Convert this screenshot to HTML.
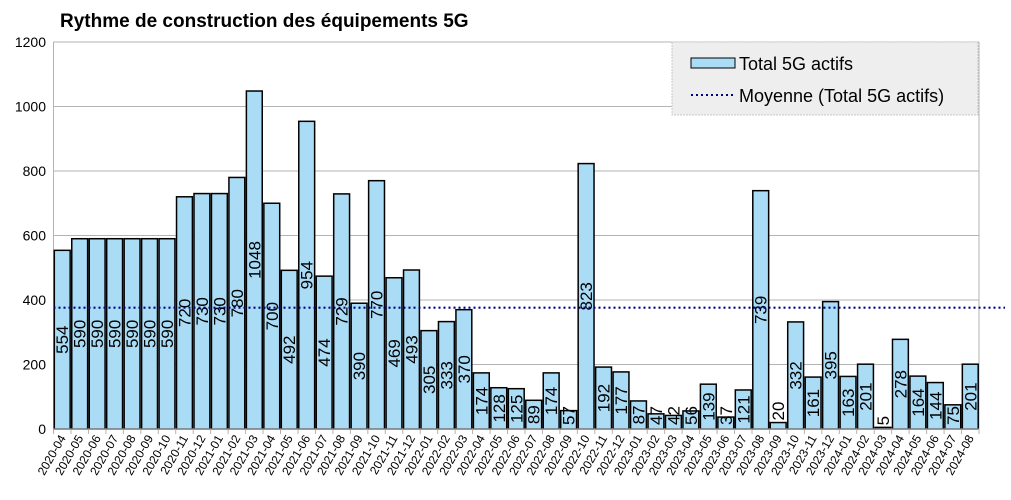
<!DOCTYPE html>
<html><head><meta charset="utf-8"><style>
body{margin:0;background:#fff}
svg text{font-family:"Liberation Sans",sans-serif}
</style></head><body>
<svg id="c" width="1011" height="495" xmlns="http://www.w3.org/2000/svg"></svg>
<script>
const v=[554,590,590,590,590,590,590,720,730,730,780,1048,700,492,954,474,729,390,770,469,493,305,333,370,174,128,125,89,174,57,823,192,177,87,47,42,56,139,37,121,739,20,332,161,395,163,201,5,278,164,144,75,201];
const lab=[];
for(let y=2020;y<=2024;y++)for(let m=1;m<=12;m++){if(y==2020&&m<4)continue;if(y==2024&&m>8)continue;lab.push(y+'-'+String(m).padStart(2,'0'));}
const x0=53.5,x1=979,y0=429,sc=387/1200,w=(x1-x0)/53;
let s='<text x="60" y="27" font-size="19" font-weight="bold" fill="#000">Rythme de construction des équipements 5G</text>';
for(let t=0;t<=1200;t+=200){const y=y0-t*sc;s+=`<line x1="${x0}" x2="${x1}" y1="${y}" y2="${y}" stroke="#b3b3b3" stroke-width="1"/>`;s+=`<text x="46" y="${y+5}" font-size="14" text-anchor="end" fill="#000">${t}</text>`;}
s+=`<line x1="${x1}" x2="${x1}" y1="42" y2="${y0}" stroke="#b3b3b3"/>`;
s+=`<line x1="${x0}" x2="${x0}" y1="42" y2="${y0+5}" stroke="#b3b3b3"/>`;
v.forEach((d,i)=>{const bx=x0+i*w+0.8,bh=d*sc;
s+=`<rect x="${bx}" y="${y0-bh}" width="${w-1.6}" height="${bh}" fill="#aadcf6" stroke="#000" stroke-width="1.5"/>`;
const len=String(d).length*9.5;let cy=y0-bh/2;if(cy>y0-len/2-4)cy=y0-len/2-4;if(d<30)cy=y0-bh-len/2-2;
const cx=x0+i*w+w/2;
s+=`<text transform="translate(${cx+6},${cy}) rotate(-90)" font-size="17" text-anchor="middle" fill="#000">${d}</text>`;
const tx=x0+(i+1)*w;s+=`<line x1="${tx}" x2="${tx}" y1="${y0}" y2="${y0+5}" stroke="#b3b3b3"/>`;
s+=`<text transform="translate(${cx+4},${y0+9}) rotate(-60)" font-size="12" text-anchor="end" fill="#000">${lab[i]}</text>`;
});
s+=`<line x1="${x0}" x2="${x1}" y1="${y0}" y2="${y0}" stroke="#b3b3b3"/>`;
s+=`<line x1="${x0}" x2="1005" y1="307.7" y2="307.7" stroke="#000080" stroke-width="2.2" stroke-dasharray="2,3"/>`;
s+=`<rect x="672" y="42" width="306" height="73" fill="#eeeeee" stroke="#c8c8c8" stroke-dasharray="2,1"/>`;
s+=`<rect x="691" y="58" width="44" height="10" fill="#aadcf6" stroke="#000" stroke-width="1"/>`;
s+=`<text x="739" y="70" font-size="18" fill="#000">Total 5G actifs</text>`;
s+=`<line x1="691" x2="735" y1="95" y2="95" stroke="#000080" stroke-width="2" stroke-dasharray="2,3"/>`;
s+=`<text x="739" y="102" font-size="18" fill="#000">Moyenne (Total 5G actifs)</text>`;
document.getElementById('c').innerHTML=s;
</script>
</body></html>
